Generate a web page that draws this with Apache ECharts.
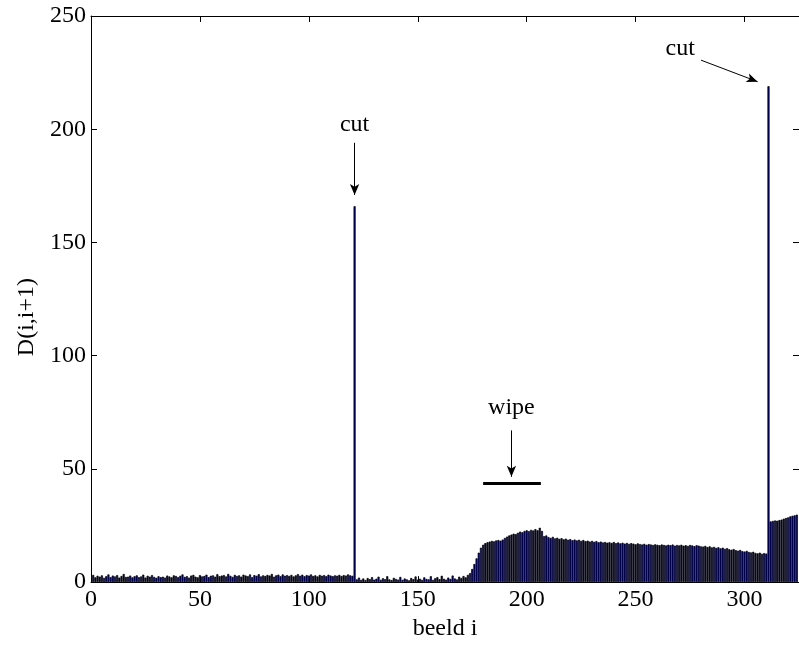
<!DOCTYPE html>
<html>
<head>
<meta charset="utf-8">
<script src="https://cdn.jsdelivr.net/npm/echarts@6/dist/echarts.min.js"></script>
<style>
  html, body { margin: 0; padding: 0; background: #ffffff; }
  #chart { width: 799px; height: 646px; }
</style>
</head>
<body>
<div id="chart"></div>
<script>
// Frame-to-frame difference D(i,i+1), frames 1..324, split by shot segments.
const shotOne = [
  3.2,2.1,2.8,2.4,3.0,1.9,2.6,3.4,2.2,2.9,
  2.5,3.1,2.0,2.7,3.6,2.3,2.4,2.9,2.1,2.6,
  3.0,2.2,2.5,3.3,2.0,2.8,2.4,3.1,2.3,1.9,
  2.6,2.2,2.4,2.0,2.9,2.5,2.1,3.0,2.7,2.2,
  2.8,3.4,2.3,2.6,2.0,2.9,3.2,2.4,2.1,3.1,
  2.5,2.7,3.3,2.2,2.8,3.0,2.4,3.5,2.6,2.9,
  3.1,2.5,3.6,2.8,2.3,3.2,2.7,3.0,2.4,3.3,
  2.9,2.6,3.4,2.2,3.1,2.8,3.5,2.5,3.0,2.7,
  3.2,2.9,3.6,2.4,3.0,3.3,2.6,3.4,2.8,3.1,
  2.7,3.2,2.5,3.0,3.5,2.8,3.3,2.6,3.1,2.9,
  3.4,2.7,3.0,2.5,3.2,2.8,3.1,2.6,3.3,2.9,
  2.6,3.0,2.8,3.2,2.7,3.1,2.9,3.4,3.0,2.8
];
const cutOne = [166];
const shotTwo = [
  1.2,2.0,1.0,1.6,0.9,1.8,1.3,2.2,1.1,1.5,
  2.4,1.0,1.7,1.3,2.6,1.2,0.9,1.9,1.4,1.1,
  2.3,1.0,1.6,1.2,0.8,1.8,1.3,2.5,1.1,1.5,
  1.0,2.1,1.4,1.2,2.6,1.0,1.7,2.2,1.3,2.8,
  1.5,1.1,2.0,1.4,2.9,1.6,1.2,2.4,1.8,2.7,
  2.1,3.2
];
const wipeRise = [4.0,5.8,8.0,10.5,13.0,15.2,16.5,17.2];
const wipeBody = [
  17.6,17.9,18.2,18.0,18.4,18.6,18.3,18.8,19.5,20.1,
  20.6,21.0,21.4,21.2,21.8,22.3,22.0,22.6,22.9,22.5,
  23.1,22.8,23.4,22.9,24.0,22.6
];
const shotThree = [
  20.3,20.6,19.9,19.5,20.0,19.3,19.6,19.1,19.4,18.9,
  19.2,18.7,19.0,18.5,18.8,18.4,18.7,18.2,18.6,18.1,
  18.3,17.9,18.2,
  17.8,18.1,17.6,17.9,17.5,17.7,17.4,17.6,17.3,17.7,
  17.2,17.5,17.1,17.4,17.0,17.3,16.9,17.2,17.0,16.7,
  17.1,16.8,16.6,16.9,16.5,16.8,16.6,16.4,16.7,16.5,
  16.3,16.6,16.4,16.2,16.5,16.3,16.6,16.1,16.4,16.2,
  16.5,16.1,16.3,16.0,16.4,16.2,15.9,16.3,16.1,15.8,
  15.7,16.0,15.5,15.8,15.3,15.6,15.1,15.4,14.9,15.2,
  14.7,15.0,14.5,14.3,14.6,14.1,13.9,14.2,13.7,13.5,
  13.8,13.3,13.1,13.4,12.9,12.7,13.0,12.5,12.8,12.6
];
const cutTwo = [219];
const shotFour = [26.8,27.0,27.2,27.1,27.4,27.6,28.0,28.3,28.6,29.0,29.3,29.5,29.8];

const xTicks = [0, 50, 100, 150, 200, 250, 300];
const yTicks = [0, 50, 100, 150, 200, 250];

// Annotation anchors in data units [frame, D]
const cutOneLabel = [121, 202];
const cutOneArrow = [[121, 194], [121, 171]];
const cutTwoLabel = [270.5, 235.5];
const cutTwoArrow = [[280, 230.5], [306, 221]];
const wipeLabel = [193, 77];
const wipeArrow = [[193, 67], [193, 46.5]];
const wipeSpan = [[180, 43.5], [206.5, 43.5]];

const dValues = [].concat(shotOne, cutOne, shotTwo, wipeRise, wipeBody, shotThree, cutTwo, shotFour);
const barData = dValues.map((v, i) => [i + 1, v]);

const FONT = 'Liberation Serif';
const X_MIN = 0, X_MAX = 325, Y_MIN = 0, Y_MAX = 250;

const chart = echarts.init(document.getElementById('chart'), null, { renderer: 'canvas' });

const tickFmt = (list) => (v) => (list.indexOf(v) >= 0 ? String(v) : '');

// arrow from a to b: plain start, filled arrow head at the end
const arrow = (a, b) => [
  { coord: a, symbol: 'none' },
  { coord: b, symbol: 'arrow', symbolSize: [7, 11] }
];

chart.setOption({
  animation: false,
  backgroundColor: '#ffffff',
  grid: { left: 91, top: 16, right: -1, bottom: 39, containLabel: false },
  xAxis: [
    {
      type: 'value', position: 'bottom', min: X_MIN, max: X_MAX, interval: 50,
      name: 'beeld i', nameLocation: 'middle', nameGap: 22,
      nameTextStyle: { fontFamily: FONT, fontSize: 24, color: '#000' },
      axisLine: { show: true, onZero: false, lineStyle: { color: '#000', width: 1 } },
      axisTick: { show: true, inside: true, length: 6, lineStyle: { color: '#000' } },
      axisLabel: { show: true, formatter: tickFmt(xTicks), showMaxLabel: false, margin: 6,
                   fontFamily: FONT, fontSize: 24, color: '#000' },
      splitLine: { show: false }
    },
    {
      type: 'value', position: 'top', min: X_MIN, max: X_MAX, interval: 50,
      axisLine: { show: true, onZero: false, lineStyle: { color: '#000', width: 1 } },
      axisTick: { show: true, inside: true, length: 6, lineStyle: { color: '#000' } },
      axisLabel: { show: false },
      splitLine: { show: false }
    }
  ],
  yAxis: [
    {
      type: 'value', position: 'left', min: Y_MIN, max: Y_MAX, interval: 50,
      name: 'D(i,i+1)', nameLocation: 'middle', nameGap: 52, nameRotate: 90,
      nameTextStyle: { fontFamily: FONT, fontSize: 24, color: '#000', padding: [0, 36, 0, 0] },
      axisLine: { show: true, onZero: false, lineStyle: { color: '#000', width: 1 } },
      axisTick: { show: true, inside: true, length: 6, lineStyle: { color: '#000' } },
      axisLabel: { show: true, formatter: tickFmt(yTicks), margin: 5,
                   fontFamily: FONT, fontSize: 24, color: '#000' },
      splitLine: { show: false }
    },
    {
      type: 'value', position: 'right', min: Y_MIN, max: Y_MAX, interval: 50,
      axisLine: { show: true, onZero: false, lineStyle: { color: '#000', width: 1 } },
      axisTick: { show: true, inside: true, length: 6, lineStyle: { color: '#000' } },
      axisLabel: { show: false },
      splitLine: { show: false }
    }
  ],
  series: [
    {
      type: 'bar',
      xAxisIndex: 0, yAxisIndex: 0,
      data: barData,
      barWidth: 2.1,
      itemStyle: { color: '#000078', borderColor: '#000000', borderWidth: 0.7 },
      emphasis: { disabled: true },
      silent: true,
      markLine: {
        silent: true,
        symbol: ['none', 'arrow'],
        label: { show: false },
        lineStyle: { color: '#000', width: 1, type: 'solid' },
        emphasis: { disabled: true },
        data: [
          arrow(cutOneArrow[0], cutOneArrow[1]),
          arrow(cutTwoArrow[0], cutTwoArrow[1]),
          arrow(wipeArrow[0], wipeArrow[1]),
          [{ coord: wipeSpan[0], symbol: 'none', lineStyle: { width: 3, color: '#000' } },
           { coord: wipeSpan[1], symbol: 'none' }]
        ]
      },
      markPoint: {
        silent: true,
        symbol: 'circle',
        symbolSize: 0,
        label: { show: true, position: 'inside', formatter: '{b}',
                 fontFamily: FONT, fontSize: 24, color: '#000' },
        emphasis: { disabled: true },
        data: [
          { name: 'cut', coord: cutOneLabel },
          { name: 'cut', coord: cutTwoLabel },
          { name: 'wipe', coord: wipeLabel }
        ]
      }
    }
  ]
});
</script>
</body>
</html>
